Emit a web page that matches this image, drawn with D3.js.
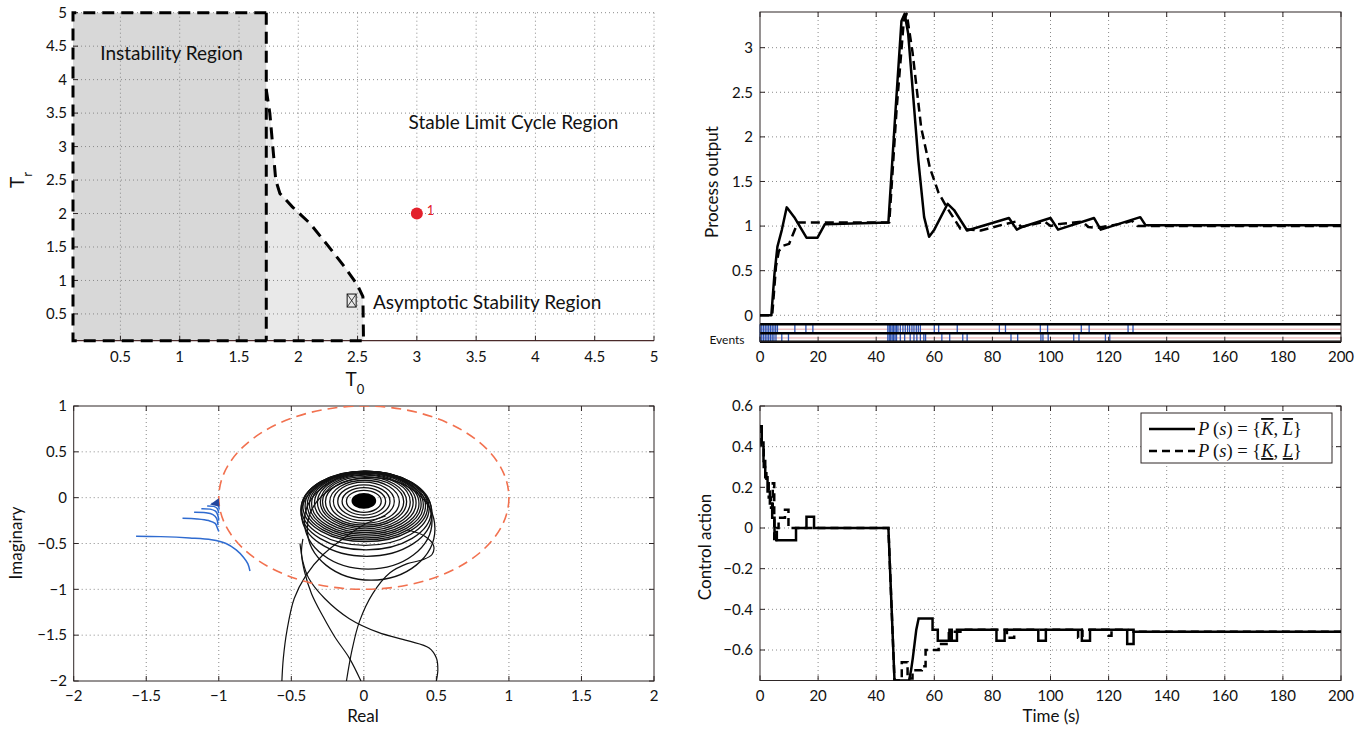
<!DOCTYPE html>
<html><head><meta charset="utf-8">
<script src="https://cdn.jsdelivr.net/npm/d3@7/dist/d3.min.js"></script>
<style>
html,body{margin:0;padding:0;background:#fff;}
svg{display:block;}
</style></head>
<body>
<svg id="chart" width="1359" height="731"></svg>
<script>
// ================= DATA =================
// Panel A (top-left): stability regions in the (T0, Tr) plane
const tlXTicks = [0.5, 1, 1.5, 2, 2.5, 3, 3.5, 4, 4.5, 5];
const tlYTicks = [0.5, 1, 1.5, 2, 2.5, 3, 3.5, 4, 4.5, 5];
const instabilityRegion = [[0.1, 0.1], [0.1, 5], [1.73, 5], [1.73, 0.1]];
const boundaryCurve = [[1.73, 3.85], [1.76, 3.5], [1.785, 3.0], [1.81, 2.5], [1.845, 2.3], [1.95, 2.1], [2.1, 1.85], [2.25, 1.52], [2.4, 1.18], [2.5, 0.93], [2.545, 0.76], [2.55, 0.1]];
const outerOutline = [[1.73, 5], [0.1, 5], [0.1, 0.1], [2.55, 0.1]];
const dividerLine = [[1.73, 5], [1.73, 0.1]];
const operatingPoint = [3, 2];
const asymptoticMarker = [2.45, 0.7];

// Panel B (top-right): process output
const poXTicks = [0, 20, 40, 60, 80, 100, 120, 140, 160, 180, 200];
const poYTicks = [0, 0.5, 1, 1.5, 2, 2.5, 3];
const poSolidT = [0, 3.9, 5, 6, 7.5, 9.2, 11.8, 16, 19.8, 22.3, 44.2, 46.5, 48.7, 49.8, 51, 54.5, 56.5, 58.2, 60, 64.6, 66.8, 71.3, 85.7, 88.4, 90.2, 100, 102.6, 115, 117.3, 130.9, 132.7, 200];
const poSolidY = [0, 0, 0.47, 0.77, 0.955, 1.21, 1.1, 0.87, 0.87, 1.02, 1.04, 2.22, 3.3, 3.38, 3.16, 1.74, 1.1, 0.88, 0.96, 1.25, 1.18, 0.95, 1.09, 0.96, 0.99, 1.09, 0.96, 1.09, 0.96, 1.1, 1.01, 1.01];
const poDashT = [0, 4.2, 5.5, 6.5, 8, 10, 11.5, 13, 44.5, 47, 49.5, 50.5, 52.5, 55.5, 58.5, 61.5, 64.5, 69, 76, 84, 88, 90, 98, 100, 102, 111, 113, 116, 125, 128, 130, 200];
const poDashY = [0, 0, 0.55, 0.72, 0.78, 0.8, 0.92, 1.04, 1.04, 2.3, 3.3, 3.38, 2.95, 2.1, 1.65, 1.37, 1.2, 0.97, 0.95, 1.02, 1.05, 0.99, 1.05, 1.0, 1.02, 1.05, 0.99, 0.98, 1.03, 1.06, 1.0, 1.0];
const eventsRow1 = [0, 0.6, 1.2, 1.8, 2.4, 3, 3.6, 4.2, 4.8, 5.4, 6, 12, 15.8, 18.2, 44, 44.5, 45, 45.5, 46, 46.5, 47, 47.5, 48.3, 49.2, 50, 50.8, 51.5, 52.3, 53, 53.8, 54.5, 55.2, 60, 61.5, 67.9, 82.4, 84.5, 96.5, 99, 110.6, 113.3, 126.7, 128.4];
const eventsRow2 = [0, 0.6, 1.2, 1.8, 2.4, 3, 3.6, 4.2, 4.8, 5.5, 7.5, 9.8, 44, 44.5, 45, 45.5, 46, 46.5, 47, 48.3, 49.8, 51.7, 53, 54, 55.2, 56.4, 57, 62.6, 65.3, 69.8, 71.3, 86.4, 88.7, 96.7, 97.4, 99.2, 108, 109.8, 118.9, 120.4];

// Panel C (bottom-left): Nyquist-type plot
const nqXTicks = [-2, -1.5, -1, -0.5, 0, 0.5, 1, 1.5, 2];
const nqYTicks = [-2, -1.5, -1, -0.5, 0, 0.5, 1];
const circleCenter = [0, 0];
const circleRadius = 1;
const blueCurves = [
  [[-1.57, -0.42], [-1.4, -0.425], [-1.2, -0.44], [-1.05, -0.46], [-0.95, -0.5], [-0.88, -0.57], [-0.83, -0.65], [-0.8, -0.72], [-0.785, -0.8]],
  [[-1.25, -0.225], [-1.15, -0.232], [-1.07, -0.25], [-1.025, -0.28], [-1.01, -0.33], [-1.0, -0.37]],
  [[-1.17, -0.16], [-1.09, -0.165], [-1.04, -0.185], [-1.015, -0.225], [-1.005, -0.3]],
  [[-1.12, -0.12], [-1.06, -0.125], [-1.025, -0.145], [-1.008, -0.185], [-1.0, -0.25]],
  [[-1.08, -0.09], [-1.035, -0.095], [-1.012, -0.115], [-1.0, -0.17]],
  [[-1.05, -0.065], [-1.02, -0.07], [-1.003, -0.09], [-0.997, -0.13]]
];
const blueTip = [[-1.06, -0.075], [-1.0, -0.005], [-0.995, -0.1]];
const loopCx =     [0.0,  0.0,  0.0,  0.0,  0.005, 0.005, 0.005, 0.01, 0.01, 0.01, 0.01, 0.01, 0.01, 0.01, 0.01, 0.01, 0.015, 0.02, 0.03, 0.05];
const loopRx =     [0.12, 0.15, 0.18, 0.21, 0.24, 0.27, 0.29, 0.31, 0.33, 0.35, 0.37, 0.385, 0.40, 0.415, 0.43, 0.44, 0.45, 0.45, 0.44, 0.44];
const loopTop =    [0.08, 0.11, 0.14, 0.17, 0.19, 0.21, 0.23, 0.245, 0.255, 0.265, 0.27, 0.275, 0.28, 0.285, 0.29, 0.29, 0.29, 0.285, 0.27, 0.22];
const loopBottom = [-0.16, -0.19, -0.22, -0.25, -0.28, -0.3, -0.32, -0.34, -0.36, -0.38, -0.4, -0.42, -0.44, -0.46, -0.48, -0.52, -0.57, -0.64, -0.78, -0.9];
const coreCenter = [0.0, -0.035];
const coreRadius = 0.085;
const tails = [
  [[0.15, -0.2], [0.02, -0.28], [-0.12, -0.42], [-0.28, -0.62], [-0.4, -0.85], [-0.48, -1.1], [-0.53, -1.45], [-0.555, -1.75], [-0.565, -2.0]],
  [[-0.42, -0.45], [-0.43, -0.6], [-0.41, -0.8], [-0.36, -1.05], [-0.28, -1.3], [-0.2, -1.52], [-0.1, -1.75], [-0.02, -2.0]],
  [[-0.44, -0.5], [-0.42, -0.7], [-0.38, -0.88], [-0.27, -1.1], [-0.1, -1.32], [0.1, -1.47], [0.3, -1.56], [0.45, -1.64], [0.5, -1.75], [0.51, -1.88], [0.5, -2.0]],
  [[0.3, -0.35], [0.42, -0.42], [0.48, -0.52], [0.47, -0.62], [0.4, -0.68], [0.3, -0.72], [0.18, -0.82], [0.06, -1.05], [-0.03, -1.35], [-0.08, -1.65], [-0.12, -2.0]]
];

// Panel D (bottom-right): control action
const caXTicks = [0, 20, 40, 60, 80, 100, 120, 140, 160, 180, 200];
const caYTicks = [-0.6, -0.4, -0.2, 0, 0.2, 0.4, 0.6];
const caSolid = [[0, 0.5], [0.6, 0.5], [0.6, 0.42], [1.2, 0.42], [1.2, 0.33], [1.8, 0.33], [1.8, 0.25], [2.6, 0.25], [2.6, 0.18], [3.4, 0.18], [3.4, 0.12], [4.2, 0.12], [4.2, 0.05], [5, 0.05], [5, -0.02], [5.8, -0.02], [5.8, -0.06], [12.4, -0.06], [12.4, 0], [16, 0], [16, 0.055], [18.6, 0.055], [18.6, 0], [44.2, 0], [46.3, -0.75], [51.3, -0.75], [52, -0.7], [52.6, -0.64], [53.2, -0.57], [53.8, -0.5], [54.6, -0.445], [59.4, -0.445], [59.4, -0.5], [61.2, -0.5], [61.2, -0.555], [65.2, -0.555], [65.2, -0.5], [66, -0.5], [66, -0.555], [67.8, -0.555], [67.8, -0.5], [81.4, -0.5], [81.4, -0.555], [84.2, -0.555], [84.2, -0.5], [95.8, -0.5], [95.8, -0.555], [98.4, -0.555], [98.4, -0.5], [110.8, -0.5], [110.8, -0.555], [113.6, -0.555], [113.6, -0.5], [126.4, -0.5], [126.4, -0.57], [128.6, -0.57], [128.6, -0.51], [200, -0.51]];
const caDashed = [[0, 0.5], [0.5, 0.5], [0.5, 0.4], [1.3, 0.4], [1.3, 0.3], [2.2, 0.3], [2.2, 0.22], [3, 0.22], [3, 0.15], [3.8, 0.15], [3.8, 0.1], [4.4, 0.1], [4.4, 0.22], [4.9, 0.22], [4.9, -0.07], [5.6, -0.07], [5.6, 0], [6.4, 0], [6.4, 0.05], [8.6, 0.05], [8.6, 0.09], [9.8, 0.09], [9.8, 0], [44.2, 0], [46.3, -0.75], [48.8, -0.75], [48.8, -0.66], [50.8, -0.66], [50.8, -0.74], [52.5, -0.74], [52.5, -0.7], [55.7, -0.7], [55.7, -0.68], [57, -0.68], [57, -0.6], [61.5, -0.6], [61.5, -0.57], [65, -0.57], [65, -0.51], [69, -0.51], [69, -0.5], [85, -0.5], [85, -0.54], [87.5, -0.54], [87.5, -0.5], [109.5, -0.5], [109.5, -0.54], [111, -0.54], [111, -0.5], [120, -0.5], [120, -0.53], [121, -0.53], [121, -0.5], [128.6, -0.5], [128.6, -0.51], [200, -0.51]];

// ================= DRAWING =================
const svg = d3.select('#chart');
const FONT = "Lato, 'Open Sans', sans-serif";
const FRAME = '#2e2626';
const GRID = '#8a8a8a';
const fmt = v => String(v).replace('-', '\u2212');
let clipId = 0;

function clip(x, y) {
  const id = 'clip' + (clipId++);
  const [x0, x1] = x.range(); const [y0, y1] = y.range();
  svg.append('clipPath').attr('id', id).append('rect')
    .attr('x', Math.min(x0, x1)).attr('y', Math.min(y0, y1))
    .attr('width', Math.abs(x1 - x0)).attr('height', Math.abs(y1 - y0));
  return svg.append('g').attr('clip-path', `url(#${id})`);
}
function grid(g, x, y, xv, yv, yTop, yBot) {
  const [xa, xb] = x.range();
  const ya = yTop !== undefined ? yTop : y.range()[1];
  const yb = yBot !== undefined ? yBot : y.range()[0];
  g.selectAll(null).data(xv).join('line')
    .attr('x1', d => x(d)).attr('x2', d => x(d)).attr('y1', ya).attr('y2', yb)
    .attr('stroke', GRID).attr('stroke-width', 1).attr('stroke-dasharray', '1,3');
  g.selectAll(null).data(yv).join('line')
    .attr('y1', d => y(d)).attr('y2', d => y(d)).attr('x1', xa).attr('x2', xb)
    .attr('stroke', GRID).attr('stroke-width', 1).attr('stroke-dasharray', '1,3');
}
function xTicks(g, x, vals, yPos, dir) {
  g.selectAll(null).data(vals).join('line')
    .attr('x1', d => x(d)).attr('x2', d => x(d)).attr('y1', yPos).attr('y2', yPos + dir * 5)
    .attr('stroke', FRAME).attr('stroke-width', 1);
}
function yTicks(g, y, vals, xPos, dir) {
  g.selectAll(null).data(vals).join('line')
    .attr('y1', d => y(d)).attr('y2', d => y(d)).attr('x1', xPos).attr('x2', xPos + dir * 5)
    .attr('stroke', FRAME).attr('stroke-width', 1);
}
function xLabels(g, x, vals, yBase) {
  g.selectAll(null).data(vals).join('text')
    .attr('x', d => x(d)).attr('y', yBase).attr('text-anchor', 'middle')
    .attr('font-family', FONT).attr('font-size', 15).attr('fill', '#111').text(fmt);
}
function yLabels(g, y, vals, xEnd) {
  g.selectAll(null).data(vals).join('text')
    .attr('x', xEnd).attr('y', d => y(d)).attr('dy', '0.35em').attr('text-anchor', 'end')
    .attr('font-family', FONT).attr('font-size', 15).attr('fill', '#111').text(fmt);
}
function box(g, x, y, yTop, yBot) {
  const [xa, xb] = x.range();
  g.append('rect').attr('x', xa).attr('y', yTop).attr('width', xb - xa).attr('height', yBot - yTop)
    .attr('fill', 'none').attr('stroke', FRAME).attr('stroke-width', 1);
}
function label(txt, xPos, yPos, size, rotate) {
  const t = svg.append('text').attr('font-family', FONT).attr('font-size', size).attr('fill', '#111')
    .attr('text-anchor', 'middle').text(txt);
  if (rotate) t.attr('transform', `translate(${xPos},${yPos}) rotate(-90)`);
  else t.attr('x', xPos).attr('y', yPos);
  return t;
}

// ---------- Panel A ----------
{
  const x = d3.scaleLinear([0.1, 5], [73, 654]);
  const y = d3.scaleLinear([0.1, 5], [340.7, 12.7]);
  const g = svg.append('g');
  const line = d3.line().x(d => x(d[0])).y(d => y(d[1]));
  g.append('path').attr('d', line(instabilityRegion) + 'Z').attr('fill', '#d8d8d8');
  const lightPoly = [[1.73, 0.1]].concat(boundaryCurve);
  g.append('path').attr('d', line(lightPoly) + 'Z').attr('fill', '#e9e9e9');
  grid(g, x, y, tlXTicks, tlYTicks);
  g.append('line').attr('x1', x(0.1)).attr('x2', x(5)).attr('y1', y(0.1)).attr('y2', y(0.1))
    .attr('stroke', '#4a2a2a').attr('stroke-width', 1.2);
  xTicks(g, x, tlXTicks, y(0.1), -1);
  yTicks(g, y, tlYTicks, x(0.1), 1);
  const dashStyle = p => p.attr('fill', 'none').attr('stroke', '#000').attr('stroke-width', 3)
    .attr('stroke-dasharray', '12,7');
  dashStyle(g.append('path').attr('d', line(outerOutline)));
  dashStyle(g.append('path').attr('d', line(dividerLine)));
  dashStyle(g.append('path').attr('d', line(boundaryCurve)));
  xLabels(g, x, tlXTicks, 362);
  yLabels(g, y, tlYTicks, 67);
  g.append('circle').attr('cx', x(operatingPoint[0])).attr('cy', y(operatingPoint[1])).attr('r', 6).attr('fill', '#e3202b');
  g.append('text').attr('x', x(operatingPoint[0]) + 10).attr('y', y(operatingPoint[1]) + 1)
    .attr('font-family', FONT).attr('font-size', 13).attr('fill', '#e3202b').text('1');
  const mx = x(asymptoticMarker[0]), my = y(asymptoticMarker[1]);
  g.append('rect').attr('x', mx - 4.5).attr('y', my - 6.5).attr('width', 9).attr('height', 13)
    .attr('fill', 'none').attr('stroke', '#111').attr('stroke-width', 1);
  g.append('path').attr('d', `M${mx - 4.5},${my - 6.5}L${mx + 4.5},${my + 6.5}M${mx + 4.5},${my - 6.5}L${mx - 4.5},${my + 6.5}`)
    .attr('stroke', '#111').attr('stroke-width', 0.8);
  const rl = (t, a, b) => g.append('text').attr('x', x(a)).attr('y', y(b)).attr('font-family', FONT)
    .attr('font-size', 19).attr('fill', '#111').text(t);
  rl('Instability Region', 0.33, 4.3);
  rl('Stable Limit Cycle Region', 2.93, 3.27);
  rl('Asymptotic Stability Region', 2.63, 0.58);
  const xl = svg.append('text').attr('x', 355).attr('y', 386).attr('font-family', FONT).attr('font-size', 19)
    .attr('text-anchor', 'middle').attr('fill', '#111');
  xl.append('tspan').text('T');
  xl.append('tspan').attr('font-size', 13).attr('dy', 8).text('0');
  const yl = svg.append('text').attr('transform', 'translate(24,188) rotate(-90)').attr('font-family', FONT)
    .attr('font-size', 19).attr('fill', '#111');
  yl.append('tspan').text('T');
  yl.append('tspan').attr('font-size', 13).attr('dy', 8).text('r');
}

// ---------- Panel B ----------
{
  const x = d3.scaleLinear([0, 200], [760, 1341]);
  const y = d3.scaleLinear([-0.1, 3.4], [324.2, 12.0]);
  const g = svg.append('g');
  grid(g, x, y, poXTicks.slice(1, -1), poYTicks, 12, 324);
  const pc = clip(x, y);
  const line = d3.line().x(d => x(d[0])).y(d => y(d[1]));
  const dashPts = poDashT.map((t, i) => [t, poDashY[i]]);
  const solidPts = poSolidT.map((t, i) => [t, poSolidY[i]]);
  pc.append('path').attr('d', line(dashPts)).attr('fill', 'none').attr('stroke', '#000')
    .attr('stroke-width', 2.5).attr('stroke-dasharray', '9,5').attr('stroke-linejoin', 'round');
  pc.append('path').attr('d', line(solidPts)).attr('fill', 'none').attr('stroke', '#000')
    .attr('stroke-width', 2.5).attr('stroke-linejoin', 'round');
  const r1 = [324.2, 333.2], r2 = [333.2, 341.7];
  g.selectAll(null).data([ (r1[0] + r1[1]) / 2 + 0.5, (r2[0] + r2[1]) / 2 + 0.5 ]).join('line')
    .attr('x1', 760).attr('x2', 1341).attr('y1', d => d).attr('y2', d => d)
    .attr('stroke', '#e89090').attr('stroke-width', 0.8);
  g.selectAll(null).data(eventsRow1).join('line')
    .attr('x1', d => x(d)).attr('x2', d => x(d)).attr('y1', r1[0]).attr('y2', r1[1])
    .attr('stroke', '#2b52b3').attr('stroke-width', 1.3);
  g.selectAll(null).data(eventsRow2).join('line')
    .attr('x1', d => x(d)).attr('x2', d => x(d)).attr('y1', r2[0]).attr('y2', r2[1])
    .attr('stroke', '#2b52b3').attr('stroke-width', 1.3);
  g.selectAll(null).data([r1[0], r2[0], r2[1]]).join('line')
    .attr('x1', 760).attr('x2', 1341).attr('y1', d => d).attr('y2', d => d)
    .attr('stroke', '#000').attr('stroke-width', 2.6);
  box(g, x, y, 12, 341.7);
  xTicks(g, x, poXTicks, 341.7, -1);
  xTicks(g, x, poXTicks, 12, 1);
  yTicks(g, y, poYTicks, 760, 1);
  yTicks(g, y, poYTicks, 1341, -1);
  xLabels(g, x, poXTicks, 362);
  yLabels(g, y, poYTicks, 753);
  svg.append('text').attr('x', 727).attr('y', 344).attr('text-anchor', 'middle').attr('font-family', FONT)
    .attr('font-size', 12).attr('fill', '#111').text('Events');
  label('Process output', 718, 182, 17, true);
}

// ---------- Panel C ----------
{
  const x = d3.scaleLinear([-2, 2], [73.7, 654]);
  const y = d3.scaleLinear([-2, 1], [681, 406]);
  const g = svg.append('g');
  grid(g, x, y, nqXTicks.slice(1, -1), nqYTicks.slice(1, -1));
  const pc = clip(x, y);
  const curve = d3.line().x(d => x(d[0])).y(d => y(d[1])).curve(d3.curveCatmullRom.alpha(0.5));
  pc.selectAll(null).data(loopRx).join('ellipse')
    .attr('cx', (d, i) => x(loopCx[i]))
    .attr('cy', (d, i) => y((loopTop[i] + loopBottom[i]) / 2))
    .attr('rx', (d, i) => x(loopCx[i] + d) - x(loopCx[i]))
    .attr('ry', (d, i) => (y(loopBottom[i]) - y(loopTop[i])) / 2)
    .attr('fill', 'none').attr('stroke', '#111').attr('stroke-width', 1.3);
  pc.append('ellipse').attr('cx', x(coreCenter[0])).attr('cy', y(coreCenter[1]))
    .attr('rx', x(coreRadius) - x(0)).attr('ry', y(0) - y(coreRadius)).attr('fill', '#000');
  pc.selectAll(null).data(tails).join('path').attr('d', curve)
    .attr('fill', 'none').attr('stroke', '#111').attr('stroke-width', 1.2);
  pc.append('ellipse').attr('cx', x(circleCenter[0])).attr('cy', y(circleCenter[1]))
    .attr('rx', x(circleRadius) - x(0)).attr('ry', y(0) - y(circleRadius))
    .attr('fill', 'none').attr('stroke', '#f2714f').attr('stroke-width', 1.6).attr('stroke-dasharray', '10,6');
  pc.selectAll(null).data(blueCurves).join('path').attr('d', curve)
    .attr('fill', 'none').attr('stroke', '#2f6bd0').attr('stroke-width', 1.5);
  pc.append('path').attr('d', d3.line().x(d => x(d[0])).y(d => y(d[1]))(blueTip) + 'Z').attr('fill', '#23469e');
  box(g, x, y, 406, 681);
  xTicks(g, x, nqXTicks, 681, -1);
  xTicks(g, x, nqXTicks, 406, 1);
  yTicks(g, y, nqYTicks, 73.7, 1);
  yTicks(g, y, nqYTicks, 654, -1);
  xLabels(g, x, nqXTicks, 701);
  yLabels(g, y, nqYTicks, 67);
  label('Real', 363, 722, 17);
  label('Imaginary', 22, 543, 17, true);
}

// ---------- Panel D ----------
{
  const x = d3.scaleLinear([0, 200], [760, 1341]);
  const y = d3.scaleLinear([-0.75, 0.6], [680.5, 406]);
  const g = svg.append('g');
  grid(g, x, y, caXTicks.slice(1, -1), caYTicks.slice(0, -1));
  const pc = clip(x, y);
  const line = d3.line().x(d => x(d[0])).y(d => y(d[1]));
  pc.append('path').attr('d', line(caDashed)).attr('fill', 'none').attr('stroke', '#000')
    .attr('stroke-width', 2.5).attr('stroke-dasharray', '8,5');
  pc.append('path').attr('d', line(caSolid)).attr('fill', 'none').attr('stroke', '#000')
    .attr('stroke-width', 2.5);
  box(g, x, y, 406, 680.5);
  xTicks(g, x, caXTicks, 680.5, -1);
  xTicks(g, x, caXTicks, 406, 1);
  yTicks(g, y, caYTicks, 760, 1);
  yTicks(g, y, caYTicks, 1341, -1);
  xLabels(g, x, caXTicks, 701);
  yLabels(g, y, caYTicks, 753);
  label('Time (s)', 1051, 722, 17);
  label('Control action', 711, 547, 17, true);
  const lg = svg.append('g');
  lg.append('rect').attr('x', 1141).attr('y', 413).attr('width', 191).attr('height', 50)
    .attr('fill', '#fff').attr('stroke', FRAME).attr('stroke-width', 1);
  lg.append('line').attr('x1', 1149).attr('x2', 1195).attr('y1', 429).attr('y2', 429)
    .attr('stroke', '#000').attr('stroke-width', 2.5);
  lg.append('line').attr('x1', 1149).attr('x2', 1195).attr('y1', 451).attr('y2', 451)
    .attr('stroke', '#000').attr('stroke-width', 2.5).attr('stroke-dasharray', '8,5');
  const entries = [['overline', 435], ['underline', 457]];
  entries.forEach(([deco, yy]) => {
    const t = lg.append('text').attr('x', 1198).attr('y', yy).attr('font-family', "'Liberation Serif', 'DejaVu Serif', serif")
      .attr('font-size', 18.5).attr('fill', '#111');
    t.append('tspan').attr('font-style', 'italic').text('P');
    t.append('tspan').text('\u2009(');
    t.append('tspan').attr('font-style', 'italic').text('s');
    t.append('tspan').text(') = {');
    t.append('tspan').attr('font-style', 'italic').attr('text-decoration', deco).text('K');
    t.append('tspan').text(', ');
    t.append('tspan').attr('font-style', 'italic').attr('text-decoration', deco).text('L');
    t.append('tspan').text('}');
  });
}
</script>
</body></html>
